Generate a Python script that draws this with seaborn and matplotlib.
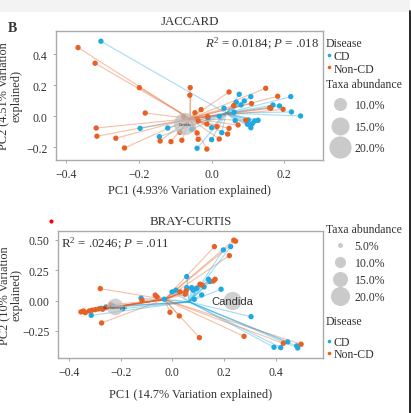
import numpy as np
import pandas as pd
import seaborn as sns
import matplotlib.pyplot as plt
from matplotlib.lines import Line2D
from matplotlib.patches import Rectangle

sns.set_style("white")
plt.rcParams["font.family"] = ["Liberation Serif", "DejaVu Serif"]
plt.rcParams["mathtext.fontset"] = "custom"
plt.rcParams["mathtext.rm"] = "Liberation Serif"
plt.rcParams["mathtext.it"] = "Liberation Serif:italic"

# ---- data ----
jac_cd_x = [-0.305, -0.197, -0.121, -0.144, -0.055, -0.010, 0.076, 0.108, 0.218, 0.068, 0.090,
            0.081, 0.034, 0.169, 0.187, 0.220, 0.245, 0.062, 0.021, 0.065, 0.101, 0.119,
            0.128, 0.112, 0.099, 0.108, 0.000, 0.028, 0.000, -0.040]
jac_cd_y = [0.485, -0.078, -0.076, -0.132, -0.085, -0.010, 0.142, 0.127, 0.127, 0.091, 0.099,
            0.073, 0.052, 0.073, 0.067, 0.028, 0.002, 0.026, 0.000, -0.028, -0.024, -0.030,
            -0.026, -0.048, -0.052, -0.074, -0.074, -0.106, -0.151, -0.207]
jac_non_x = [-0.368, -0.321, -0.199, -0.183, -0.318, -0.316, -0.264, -0.240, -0.142, -0.112,
             -0.082, -0.077, -0.087, -0.059, -0.060, 0.048, 0.149, 0.182, -0.029, 0.061,
             0.110, 0.163, 0.197, -0.011, -0.037, -0.013, 0.094, 0.073, -0.046, 0.015,
             0.048, 0.044, -0.040, -0.037, 0.021, -0.013, 0.160]
jac_non_y = [0.444, 0.343, 0.185, 0.021, -0.076, -0.129, -0.142, -0.205, -0.160, -0.164,
             -0.155, -0.002, -0.104, 0.185, 0.136, 0.157, 0.181, 0.129, 0.043, 0.069,
             0.082, 0.052, 0.045, -0.002, -0.030, -0.050, -0.026, -0.056, 0.023, -0.067,
             -0.078, -0.115, -0.108, -0.149, -0.147, -0.212, 0.055]
jac_centroid = {"CD": (0.04, 0.02), "Non-CD": (-0.06, -0.015)}
jac_taxa = ["Candida"]
jac_taxa_x = [-0.073]
jac_taxa_y = [-0.050]
jac_taxa_abund = [21.0]

bc_cd_x = [-0.314, -0.276, -0.257, -0.229, -0.192, -0.121, -0.031, -0.001, 0.014, 0.056,
           0.198, 0.226, 0.056, 0.140, 0.146, 0.075, 0.095, 0.123, 0.081, 0.114, 0.189,
           0.085, 0.305, 0.394, 0.420, 0.447, 0.482, 0.486]
bc_cd_y = [-0.121, -0.063, -0.052, -0.046, -0.066, 0.020, 0.012, 0.072, 0.086, 0.107,
           0.418, 0.445, 0.198, 0.176, 0.157, 0.107, 0.102, 0.113, 0.086, 0.047, 0.094,
           0.011, -0.132, -0.384, -0.387, -0.340, -0.373, -0.390]
bc_non_x = [-0.279, -0.274, -0.354, -0.344, -0.337, -0.322, -0.311, -0.298, -0.285, -0.270,
            -0.257, -0.238, -0.117, -0.066, -0.059, -0.009, 0.027, 0.030, 0.050, 0.163,
            0.238, 0.245, 0.221, 0.166, 0.159, 0.107, 0.114, 0.053, 0.105, 0.278, 0.430, 0.499]
bc_non_y = [0.099, -0.184, -0.093, -0.085, -0.099, -0.085, -0.079, -0.074, -0.068, -0.071,
            -0.058, -0.035, 0.003, 0.045, 0.031, -0.096, -0.126, 0.072, 0.053, 0.445,
            0.498, 0.490, 0.371, 0.176, 0.162, 0.135, 0.129, 0.080, -0.305, -0.294, -0.351, -0.359]
bc_centroid = {"CD": (0.065, -0.01), "Non-CD": (-0.03, 0.01)}
bc_taxa = ["Saccharomyces", "Candida"]
bc_taxa_x = [-0.221, 0.234]
bc_taxa_y = [-0.052, -0.003]
bc_taxa_abund = [17.0, 19.0]

jac_legend_abund = [10.0, 15.0, 20.0]
bc_legend_abund = [5.0, 10.0, 15.0, 20.0]
jac_legend_ms = [9.4, 13.0, 16.0]
bc_legend_ms = [3.6, 8.0, 10.8, 13.7]

palette = {"CD": "#1FA9E2", "Non-CD": "#E76124"}
grey = "#BDBDBD"
txt = "#333333"


def frame(cd_x, cd_y, non_x, non_y):
    a = pd.DataFrame({"PC1": cd_x, "PC2": cd_y, "Disease": "CD"})
    b = pd.DataFrame({"PC1": non_x, "PC2": non_y, "Disease": "Non-CD"})
    return pd.concat([a, b], ignore_index=True)


def panel(ax, df, cent, tx, ty, tab, leg_vals, leg_ms, title, xlab, ylab, xpad):
    # spider lines to group centroid
    for _, r in df.iterrows():
        cx, cy = cent[r.Disease]
        ax.plot([r.PC1, cx], [r.PC2, cy], color=palette[r.Disease], alpha=0.4, lw=0.8, zorder=1)
    sns.scatterplot(data=df, x="PC1", y="PC2", hue="Disease", palette=palette, s=15,
                    edgecolor="none", legend=False, ax=ax, zorder=2)
    ms = np.interp(tab, leg_vals, leg_ms)
    ax.scatter(tx, ty, s=np.array(ms) ** 2, color=grey, alpha=0.7, edgecolor="none", zorder=3)
    ax.set_title(title, fontsize=9.3, pad=5, color=txt)
    ax.set_xlabel(xlab, fontsize=8.8, color=txt, labelpad=xpad)
    ax.set_ylabel(ylab, fontsize=8.8, color=txt, linespacing=1.0)
    ax.tick_params(labelsize=8.5, colors=txt, length=2.5, width=0.6, direction="out",
                   bottom=True, left=True, color="#999999")
    for sp in ax.spines.values():
        sp.set_color("#AAAAAA")
        sp.set_linewidth(1.0)


fmt1 = plt.FuncFormatter(lambda v, p: f"{v:.1f}".replace("-", "\u2212"))
fmt2 = plt.FuncFormatter(lambda v, p: f"{v:.2f}".replace("-", "\u2212"))

fig = plt.figure(figsize=(4.11, 4.14), dpi=100)
fig.add_artist(Rectangle((0, 0.969), 0.997, 0.031, transform=fig.transFigure,
                         color="#F3F3F3", lw=0, zorder=0))
ax1 = fig.add_axes([0.136, 0.611, 0.650, 0.312])
ax2 = fig.add_axes([0.141, 0.133, 0.645, 0.307])

jac = frame(jac_cd_x, jac_cd_y, jac_non_x, jac_non_y)
bc = frame(bc_cd_x, bc_cd_y, bc_non_x, bc_non_y)

panel(ax1, jac, jac_centroid, jac_taxa_x, jac_taxa_y, jac_taxa_abund,
      jac_legend_abund, jac_legend_ms, "JACCARD",
      "PC1 (4.93% Variation explained)", "PC2 (4.51% Variation\nexplained)", 2.5)
ax1.set_xlim(-0.429, 0.307)
ax1.set_ylim(-0.283, 0.552)
ax1.set_xticks([-0.4, -0.2, 0.0, 0.2])
ax1.set_yticks([-0.2, 0.0, 0.2, 0.4])
ax1.xaxis.set_major_formatter(fmt1)
ax1.yaxis.set_major_formatter(fmt1)
ax1.yaxis.set_label_coords(-0.124, 0.5)
ax1.text(0.985, 0.97, r"$R^2$ = 0.0184; $P$ = .018", transform=ax1.transAxes,
         ha="right", va="top", fontsize=9.2, color=txt)
for x, y, t in zip(jac_taxa_x, jac_taxa_y, jac_taxa):
    ax1.text(x, y, t, fontsize=2.5, ha="center", va="center", color=txt,
             family="Liberation Sans", zorder=4)

panel(ax2, bc, bc_centroid, bc_taxa_x, bc_taxa_y, bc_taxa_abund,
      bc_legend_abund, bc_legend_ms, "BRAY-CURTIS",
      "PC1 (14.7% Variation explained)", "PC2 (10% Variation\nexplained)", 7)
ax2.set_xlim(-0.443, 0.584)
ax2.set_ylim(-0.472, 0.575)
ax2.set_xticks([-0.4, -0.2, 0.0, 0.2, 0.4])
ax2.set_yticks([-0.25, 0.0, 0.25, 0.5])
ax2.xaxis.set_major_formatter(fmt1)
ax2.yaxis.set_major_formatter(fmt2)
ax2.yaxis.set_label_coords(-0.132, 0.5)
ax2.text(0.012, 0.97, r"R$^2$ = .0246; $P$ = .011", transform=ax2.transAxes,
         ha="left", va="top", fontsize=9.3, color=txt)
ax2.text(bc_taxa_x[1], bc_taxa_y[1], bc_taxa[1], fontsize=8, ha="center", va="center",
         color=txt, family="Liberation Sans", zorder=4)
ax2.text(bc_taxa_x[0], bc_taxa_y[0], bc_taxa[0], fontsize=2.5, ha="center", va="center",
         color=txt, family="Liberation Sans", zorder=4)


def disease_handles():
    return [Line2D([], [], ls="none", marker="o", ms=2.6, mec="none", color=palette[k], label=k)
            for k in ["CD", "Non-CD"]]


def abund_handles(vals, ms):
    return [Line2D([], [], ls="none", marker="o", ms=m, mec="none", color=grey, alpha=0.8,
                   label=f"{v:.1f}%") for v, m in zip(vals, ms)]


leg_kw = dict(frameon=False, fontsize=8.5, title_fontsize=8.5, borderpad=0,
              alignment="left", borderaxespad=0, labelcolor=txt)

l1 = ax1.legend(handles=disease_handles(), title="Disease", loc="upper left",
                bbox_to_anchor=(1.01, 0.95), labelspacing=0.05, handlelength=0.5,
                handletextpad=0.2, **leg_kw)
ax1.add_artist(l1)
l1b = ax1.legend(handles=abund_handles(jac_legend_abund, jac_legend_ms), title="Taxa abundance",
                 loc="upper left", bbox_to_anchor=(1.01, 0.635), labelspacing=0.8,
                 handlelength=2.4, handletextpad=0.05, **leg_kw)

l2 = ax2.legend(handles=abund_handles(bc_legend_abund, bc_legend_ms),
                title="Taxa abundance", loc="upper left", bbox_to_anchor=(1.01, 1.06),
                labelspacing=0.42, handlelength=2.4, handletextpad=0.05, **leg_kw)
ax2.add_artist(l2)
l2b = ax2.legend(handles=disease_handles(), title="Disease\n", loc="upper left",
                 bbox_to_anchor=(1.01, 0.34), labelspacing=0.0, handlelength=0.5,
                 handletextpad=0.2, **leg_kw)
for lg in (l1, l1b, l2, l2b):
    lg.get_title().set_color(txt)
l2b.get_title().set_linespacing(0.75)

fig.text(0.02, 0.93, "B", fontsize=10, fontweight="bold", color=txt, va="center")
fig.add_artist(Line2D([0.125], [0.463], ls="none", marker="o", ms=3, color="red", mec="none"))
fig.add_artist(Line2D([0.997, 0.997], [0.0, 0.97], color="black", lw=1.2))

fig.savefig("out.png", dpi=100)
